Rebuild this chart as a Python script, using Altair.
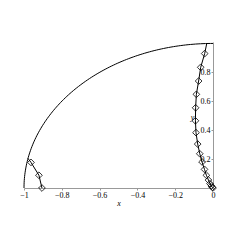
import altair as alt
import numpy as np
import pandas as pd

# right curve (line + diamond markers)
right_x = [0.0, -0.003, -0.009, -0.016, -0.024, -0.035, -0.045, -0.058, -0.070, -0.081,
           -0.090, -0.093, -0.092, -0.088, -0.076, -0.065, -0.044]
right_y = [0.0, 0.005, 0.014, 0.030, 0.055, 0.088, 0.129, 0.180, 0.237, 0.304,
           0.383, 0.465, 0.555, 0.648, 0.740, 0.835, 0.930]
right_end_x = [-0.033]
right_end_y = [1.0]

# left curve
left_x = [-0.905, -0.921, -0.963]
left_y = [0.0, 0.088, 0.177]
left_end_x = [-0.979]
left_end_y = [0.205]

x_ticks = [-1.0, -0.8, -0.6, -0.4, -0.2, 0.0]
y_ticks = [0.2, 0.4, 0.6, 0.8]

# quarter unit circle boundary
t = np.linspace(0, np.pi / 2, 120)
arc = pd.DataFrame({"x": -np.cos(t), "y": np.sin(t), "o": np.arange(len(t))})

rl = pd.DataFrame({"x": right_x + right_end_x, "y": right_y + right_end_y,
                   "o": list(range(len(right_x) + 1))})
rm = pd.DataFrame({"x": right_x, "y": right_y})
ll = pd.DataFrame({"x": left_end_x + left_x[::-1], "y": left_end_y + left_y[::-1],
                   "o": list(range(len(left_x) + 1))})
lm = pd.DataFrame({"x": left_x, "y": left_y})

W, H = 189, 146
font = "Liberation Serif"

xs = alt.Scale(domain=[-1, 0], nice=False, zero=False)
ys = alt.Scale(domain=[0, 1.01], nice=False, zero=False)

xax = alt.Axis(values=x_ticks, title="x", grid=False, domainColor="#999", tickColor="#999",
               tickSize=2, labelPadding=1, labelFont=font, labelFontSize=8, labelColor="black",
               titleFont=font, titleFontStyle="italic", titleFontWeight="normal",
               titleFontSize=8, titleColor="black", titleBaseline="middle", titleY=15,
               labelFlush=False, labelOverlap=False, labelSeparation=0, format="~g")
yax = alt.Axis(values=y_ticks, title="y", grid=False, orient="left", offset=-W,
               domainColor="#999", tickColor="#999", tickSize=2, labelPadding=1,
               labelFont=font, labelFontSize=8, labelColor="black", labelOverlap=False,
               format="~g",
               titleFont=font, titleFontStyle="italic", titleFontWeight="normal",
               titleFontSize=8, titleColor="black", titleAngle=0, titleX=-21, titleY=75,
               titleAlign="center", titleBaseline="middle")

X = alt.X("x:Q", scale=xs, axis=xax)
Y = alt.Y("y:Q", scale=ys, axis=yax)

def line(df):
    return alt.Chart(df).mark_line(color="black", strokeWidth=1).encode(
        x=X, y=Y, order="o:Q")

def marks(df):
    return alt.Chart(df).mark_point(shape="diamond", filled=False, color="black",
                                    size=45, strokeWidth=0.8, opacity=1).encode(x=X, y=Y)

chart = alt.layer(line(arc), line(rl), marks(rm), line(ll), marks(lm)).properties(
    width=W, height=H,
    autosize=alt.AutoSizeParams(type="none"),
    padding={"left": 16, "top": 34, "right": 20, "bottom": 40},
    background="white",
).configure_view(stroke=None, strokeWidth=0)

chart.save("out.html", embed_options={"renderer": "svg", "actions": False})
